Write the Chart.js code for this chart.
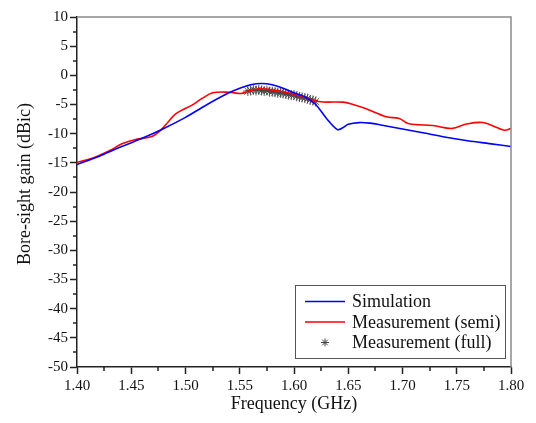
<!DOCTYPE html>
<html>
<head>
<meta charset="utf-8">
<script src="https://cdn.jsdelivr.net/npm/chart.js@4.4.1/dist/chart.umd.min.js"></script>
<style>
html,body{margin:0;padding:0;background:#fff;}
#wrap{width:536px;height:423px;position:relative;}
</style>
</head>
<body>
<div id="wrap"><canvas id="c" width="536" height="423"></canvas></div>
<script>
// ---- data ----
const simFreq = [1.40,1.42,1.44,1.46,1.48,1.50,1.52,1.54,1.55,1.56,1.57,1.58,1.59,1.60,1.61,1.62,1.63,1.64,1.645,1.65,1.66,1.67,1.68,1.70,1.72,1.74,1.76,1.78,1.80];
const simGain = [-15.3,-13.9,-12.3,-10.8,-9.1,-7.2,-5.0,-3.0,-2.2,-1.6,-1.4,-1.6,-2.2,-3.0,-3.7,-5.0,-7.4,-9.3,-9.0,-8.4,-8.1,-8.2,-8.5,-9.2,-9.9,-10.6,-11.2,-11.7,-12.2];
const semiFreq = [1.400,1.414,1.430,1.442,1.454,1.469,1.476,1.484,1.491,1.506,1.515,1.525,1.540,1.552,1.560,1.568,1.580,1.592,1.605,1.623,1.645,1.653,1.666,1.685,1.697,1.706,1.728,1.746,1.758,1.774,1.794,1.800];
const semiGain = [-14.9,-14.2,-12.9,-11.7,-11.0,-10.5,-9.6,-8.0,-6.6,-5.1,-4.0,-3.0,-2.9,-3.1,-2.6,-2.3,-2.5,-2.9,-3.5,-4.5,-4.6,-4.9,-5.7,-7.1,-7.4,-8.3,-8.6,-9.1,-8.4,-8.1,-9.4,-9.1];
const fullFreq = [1.5575,1.5600,1.5625,1.5650,1.5675,1.5700,1.5725,1.5750,1.5775,1.5800,1.5825,1.5850,1.5875,1.5900,1.5925,1.5950,1.5975,1.6000,1.6025,1.6050,1.6075,1.6100,1.6125,1.6150,1.6175,1.6200];
const fullGain = [-2.7,-2.6,-2.5,-2.6,-2.5,-2.6,-2.7,-2.6,-2.8,-2.8,-2.9,-3.0,-3.0,-3.1,-3.2,-3.3,-3.4,-3.4,-3.6,-3.7,-3.8,-3.9,-4.0,-4.2,-4.3,-4.5];
const seriesNames = ["Simulation","Measurement (semi)","Measurement (full)"];
const xTitle = "Frequency (GHz)";
const yTitle = "Bore-sight gain (dBic)";
const xMinorTicks = [1.425,1.475,1.525,1.575,1.625,1.675,1.725,1.775];
const yMinorTicks = [7.5,2.5,-2.5,-7.5,-12.5,-17.5,-22.5,-27.5,-32.5,-37.5,-42.5,-47.5];

const FONT = "'Liberation Serif','Times New Roman',serif";
const pts = (xs, ys) => xs.map((x,i)=>({x:x,y:ys[i]}));

const framePlugin = {
  id:'frame',
  afterDraw(chart){
    const ctx = chart.ctx, a = chart.chartArea;
    const xs = chart.scales.x, ys = chart.scales.y;
    ctx.save();
    // top/right gray border
    ctx.strokeStyle = '#8a8a8a'; ctx.lineWidth = 1.5;
    ctx.beginPath();
    ctx.moveTo(a.left, a.top); ctx.lineTo(a.right, a.top); ctx.lineTo(a.right, a.bottom);
    ctx.stroke();
    // minor ticks
    ctx.strokeStyle = '#222'; ctx.lineWidth = 1.5;
    ctx.beginPath();
    xMinorTicks.forEach(v=>{ const p = Math.round(xs.getPixelForValue(v)); ctx.moveTo(p, a.bottom); ctx.lineTo(p, a.bottom+4); });
    yMinorTicks.forEach(v=>{ const p = Math.round(ys.getPixelForValue(v)); ctx.moveTo(a.left, p); ctx.lineTo(a.left-4, p); });
    ctx.stroke();
    // axis titles
    ctx.fillStyle = '#111';
    ctx.font = "18px " + FONT;
    ctx.textAlign = 'center'; ctx.textBaseline = 'middle';
    ctx.fillText(xTitle, (a.left+a.right)/2, 404);
    ctx.save();
    ctx.translate(25, 184); ctx.rotate(-Math.PI/2);
    ctx.fillText(yTitle, 0, 0);
    ctx.restore();
    // legend
    const lx = 295, ly = 285, lw = 210, lh = 73;
    ctx.fillStyle = '#fff';
    ctx.fillRect(lx, ly, lw, lh);
    ctx.strokeStyle = '#555'; ctx.lineWidth = 1;
    ctx.strokeRect(lx+0.5, ly+0.5, lw, lh);
    const rows = [301.5, 322, 342.5];
    const ds = chart.data.datasets;
    ctx.font = "18px " + FONT; ctx.textAlign = 'left';
    rows.forEach((ry,i)=>{
      if (i < 2) {
        ctx.strokeStyle = ds[i].borderColor; ctx.lineWidth = 1.5;
        ctx.beginPath(); ctx.moveTo(305, ry); ctx.lineTo(345, ry); ctx.stroke();
      } else {
        ctx.strokeStyle = '#444'; ctx.fillStyle = '#444'; ctx.lineWidth = 1;
        Chart.helpers.drawPoint(ctx, {pointStyle:'star', radius:4, borderWidth:1}, 325, ry);
      }
      ctx.fillStyle = '#111';
      ctx.fillText(seriesNames[i], 352, ry+1);
    });
    ctx.restore();
  }
};

new Chart(document.getElementById('c'), {
  type:'line',
  data:{
    datasets:[
      {label:seriesNames[0], data:pts(simFreq, simGain), borderColor:'#0000ff', borderWidth:1.6, pointRadius:0, tension:0.35, fill:false},
      {label:seriesNames[1], data:pts(semiFreq, semiGain), borderColor:'#ff0000', borderWidth:1.6, pointRadius:0, tension:0.35, fill:false},
      {label:seriesNames[2], data:pts(fullFreq, fullGain), showLine:false, pointStyle:'star', pointRadius:5, borderColor:'#444', backgroundColor:'#444', pointBorderWidth:0.9, pointHoverRadius:5}
    ]
  },
  options:{
    responsive:false, animation:false, devicePixelRatio:1,
    layout:{padding:{left:0, top:17, right:25, bottom:0}},
    plugins:{legend:{display:false}, tooltip:{enabled:false}},
    scales:{
      x:{type:'linear', min:1.4, max:1.8,
        afterFit(s){ s.height = 56; },
        grid:{drawOnChartArea:false, drawTicks:true, tickLength:7, tickColor:'#222', tickWidth:1.5},
        border:{display:true, color:'#222', width:1.5},
        ticks:{stepSize:0.05, padding:3, color:'#111', font:{family:FONT, size:15}, maxRotation:0, autoSkip:false,
          callback:(v)=>Number(v).toFixed(2)}
      },
      y:{type:'linear', min:-50, max:10,
        afterFit(s){ s.width = 77; },
        grid:{drawOnChartArea:false, drawTicks:true, tickLength:7, tickColor:'#222', tickWidth:1.5},
        border:{display:true, color:'#222', width:1.5},
        ticks:{stepSize:5, padding:2, color:'#111', font:{family:FONT, size:15}, autoSkip:false}
      }
    }
  },
  plugins:[framePlugin]
});
</script>
</body>
</html>
